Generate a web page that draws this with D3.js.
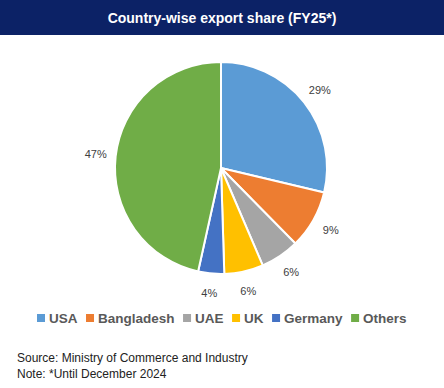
<!DOCTYPE html>
<html><head><meta charset="utf-8">
<script src="https://cdn.jsdelivr.net/npm/d3@7"></script>
<style>body{margin:0;background:#fff;} svg{display:block;font-family:Arial,"Liberation Sans",sans-serif;}</style>
</head><body>
<script>
const categories = ["USA","Bangladesh","UAE","UK","Germany","Others"];
const shares = [29, 9, 6, 6, 4, 47];
const labels = ["29%","9%","6%","6%","4%","47%"];
const colors = ["#5B9BD5","#ED7D31","#A5A5A5","#FFC000","#4472C4","#70AD47"];

const W = 444, H = 388;
const svg = d3.select("body").append("svg").attr("width", W).attr("height", H);

svg.append("rect").attr("x",0).attr("y",0).attr("width",W).attr("height",35).attr("fill","#0c2266");
svg.append("text").attr("x",W/2).attr("y",23).attr("text-anchor","middle")
  .attr("fill","#fff").attr("font-weight","bold").attr("font-size",14)
  .text("Country-wise export share (FY25*)");

const data = categories.map((c,i)=>({cat:c, v:shares[i], lab:labels[i], col:colors[i]}));
const pie = d3.pie().value(d=>d.v).sort(null);
const arcs = pie(data);
const R = 106;
const arc = d3.arc().innerRadius(0).outerRadius(R);
const labelArc = d3.arc().innerRadius(126).outerRadius(126);
const g = svg.append("g").attr("transform","translate(221,168)");
g.selectAll("path").data(arcs).join("path")
  .attr("d",arc).attr("fill",d=>d.data.col).attr("stroke","#fff").attr("stroke-width",2).attr("stroke-linejoin","round");
g.selectAll("text").data(arcs).join("text")
  .attr("transform",d=>`translate(${labelArc.centroid(d)})`)
  .attr("text-anchor","middle").attr("dy","0.35em")
  .attr("font-size",11).attr("fill","#404040")
  .text(d=>d.data.lab);

// legend
const legend = svg.append("g").attr("transform","translate(0,318)");
let x = 37;
data.forEach(d=>{
  legend.append("rect").attr("x",x).attr("y",-4).attr("width",8).attr("height",8).attr("fill",d.col);
  const t = legend.append("text").attr("x",x+12).attr("y",5).attr("font-size",13.5).attr("font-weight","bold")
    .attr("fill","#595959").text(d.cat);
  x += 12 + t.node().getComputedTextLength() + 8.5;
});

svg.append("text").attr("x",17).attr("y",362).attr("font-size",12).attr("fill","#222").text("Source: Ministry of Commerce and Industry");
svg.append("text").attr("x",17).attr("y",378).attr("font-size",12).attr("fill","#222").text("Note: *Until December 2024");
</script>
</body></html>
